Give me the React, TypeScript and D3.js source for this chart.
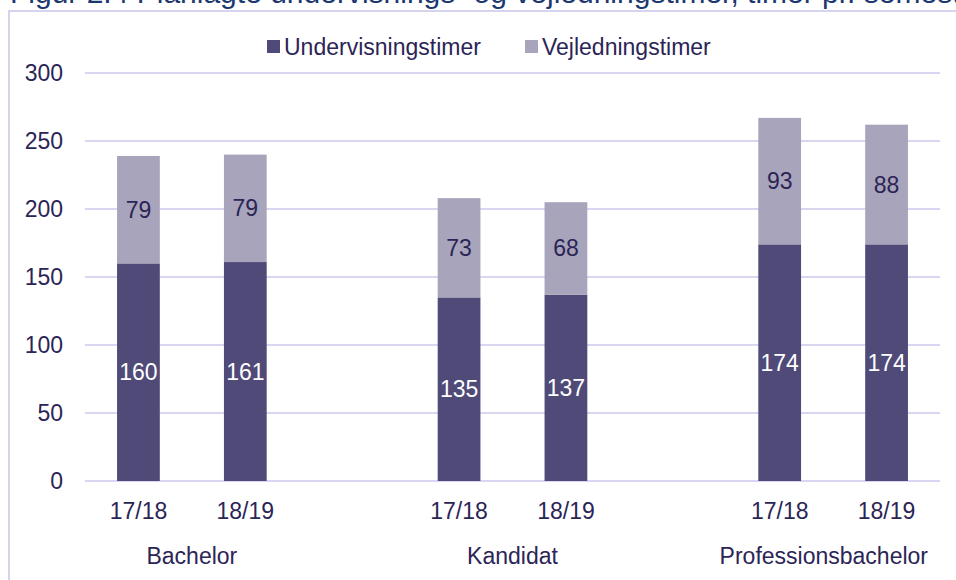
import React from 'react';
import * as d3 from 'd3';

const groups = ['Bachelor', 'Kandidat', 'Professionsbachelor'];
const years = ['17/18', '18/19'];
const undervisning = [160, 161, 135, 137, 174, 174];
const vejledning = [79, 79, 73, 68, 93, 88];
const yTicks = [0, 50, 100, 150, 200, 250, 300];
const seriesNames = ['Undervisningstimer', 'Vejledningstimer'];

const colors = ['#4f4a78', '#a8a4bb'];
const textColor = '#2b2556';
const gridColor = '#d9d6f1';
const font = '"Liberation Sans", Arial, sans-serif';
const fs = 23;

const W = 956;
const H = 580;
const margin = { top: 73, right: 16, bottom: 99, left: 85 };

// slots: 2 years per group with an empty slot between groups
const slots: string[] = [];
groups.forEach((g, gi) => {
  years.forEach((y) => slots.push(`${g}|${y}`));
  if (gi < groups.length - 1) slots.push(`gap${gi}`);
});

const App: React.FC = () => {
  const x = d3
    .scaleBand()
    .domain(slots)
    .range([margin.left, W - margin.right])
    .paddingInner(0.6)
    .paddingOuter(0.3);

  const y = d3
    .scaleLinear()
    .domain([0, 300])
    .range([H - margin.bottom, margin.top]);

  const bars = groups.flatMap((g, gi) =>
    years.map((yr, yi) => {
      const i = gi * years.length + yi;
      return { key: `${g}|${yr}`, year: yr, u: undervisning[i], v: vejledning[i] };
    })
  );

  const bw = x.bandwidth();

  return (
    <svg width={W} height={H} style={{ position: 'absolute', left: 0, top: 0 }} fontFamily={font}>
      <rect width={W} height={H} fill="#fff" />
      {/* title is cropped by the top edge in the source */}
      <text x={10} y={3} fontSize={30} fill="#1d3870" fontFamily={font}>
        Figur 2.4 Planlagte undervisnings- og vejledningstimer, timer pr. semester
      </text>
      <rect x={9} y={11} width={W + 20} height={H + 20} fill="none" stroke="#d6d3ef" strokeWidth={2} />

      {yTicks.map((t) => (
        <g key={t}>
          <line x1={margin.left} x2={W - margin.right} y1={y(t)} y2={y(t)} stroke={gridColor} strokeWidth={2} />
          <text x={63} y={y(t)} dy="0.35em" textAnchor="end" fontSize={fs} fill={textColor}>
            {t}
          </text>
        </g>
      ))}

      {bars.map((b) => {
        const x0 = x(b.key)!;
        const cx = x0 + bw / 2;
        return (
          <g key={b.key}>
            <rect x={x0} y={y(b.u)} width={bw} height={y(0) - y(b.u)} fill={colors[0]} />
            <rect x={x0} y={y(b.u + b.v)} width={bw} height={y(b.u) - y(b.u + b.v)} fill={colors[1]} />
            <text x={cx} y={(y(0) + y(b.u)) / 2} dy="0.35em" textAnchor="middle" fontSize={fs} fill="#fff">
              {b.u}
            </text>
            <text x={cx} y={(y(b.u) + y(b.u + b.v)) / 2} dy="0.35em" textAnchor="middle" fontSize={fs} fill={textColor}>
              {b.v}
            </text>
            <text x={cx} y={511} dy="0.35em" textAnchor="middle" fontSize={fs} fill={textColor}>
              {b.year}
            </text>
          </g>
        );
      })}

      {groups.map((g, gi) => {
        const a = x(`${g}|${years[0]}`)!;
        const c = x(`${g}|${years[years.length - 1]}`)! + bw;
        const last = gi === groups.length - 1;
        // the last label is pulled in to fit inside the plot, like in the source
        return (
          <text
            key={g}
            x={last ? W - 28 : (a + c) / 2}
            y={556}
            dy="0.35em"
            textAnchor={last ? 'end' : 'middle'}
            fontSize={fs}
            fill={textColor}
          >
            {g}
          </text>
        );
      })}

      <g>
        <rect x={267} y={40} width={13} height={13} fill={colors[0]} />
        <text x={284} y={47} dy="0.35em" fontSize={fs} fill={textColor}>
          {seriesNames[0]}
        </text>
        <rect x={525} y={40} width={13} height={13} fill={colors[1]} />
        <text x={542} y={47} dy="0.35em" fontSize={fs} fill={textColor}>
          {seriesNames[1]}
        </text>
      </g>
    </svg>
  );
};

export default App;
